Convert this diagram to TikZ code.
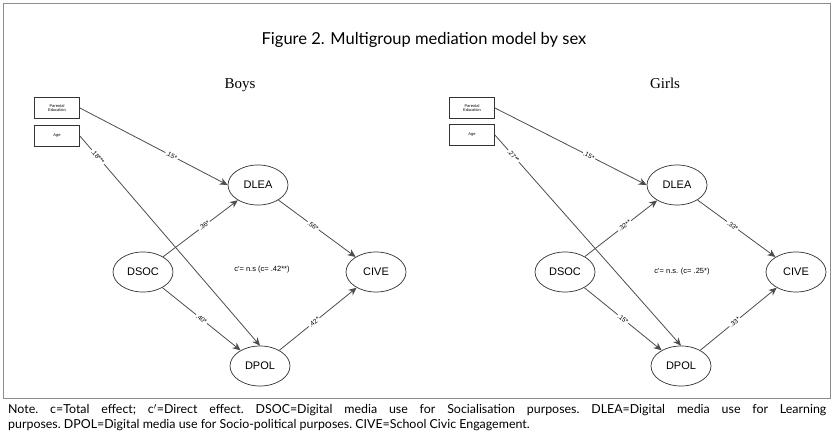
\documentclass[tikz,border=0pt]{standalone}
\usepackage{fontspec}
\setmainfont{Liberation Serif}
\newfontfamily\gillfont{Lato}
\newfontfamily\arialfont{Liberation Sans}
\usetikzlibrary{shapes.geometric,arrows.meta}
\tikzset{
  latent/.style={ellipse,draw=black!80,line width=0.7pt,minimum width=60pt,minimum height=40pt,inner sep=0pt,font=\arialfont\fontsize{11}{12}\selectfont},
  obsbox/.style={rectangle,draw=black!80,line width=0.8pt,minimum width=45pt,minimum height=21pt,inner sep=1pt,align=center,font=\arialfont\fontsize{4}{4.5}\selectfont},
  arr/.style={draw=black!70,line width=0.8pt,-{Stealth[length=8pt,width=7pt]}},
  lab/.style={fill=white,inner sep=1pt,font=\arialfont\fontsize{6.5}{7}\selectfont,sloped},
  grouptitle/.style={font=\fontsize{15}{17}\selectfont},
  ctext/.style={font=\arialfont\fontsize{7.5}{9}\selectfont}
}
\begin{document}
\begin{tikzpicture}[x=1pt,y=-1pt]
\useasboundingbox (0,0) rectangle (834,443);
\draw[black!45,line width=0.8pt] (3,3) rectangle (830,398);
\node[font=\gillfont\fontsize{16.5}{18}\selectfont] (title) at (424,40) {Figure 2. Multigroup mediation model by sex};
% Boys
\node[grouptitle] (boys) at (240,85) {Boys};
\node[obsbox] (pe1) at (57,108) {Parental\\Education};
\node[obsbox] (age1) at (57,136) {Age};
\node[latent] (dlea1) at (258,185) {DLEA};
\node[latent] (dsoc1) at (143,272) {DSOC};
\node[latent] (cive1) at (376,272) {CIVE};
\node[latent] (dpol1) at (260,366) {DPOL};
\draw[arr] (pe1.east) -- (dlea1.west) node[lab,pos=0.62] {.15*};
\draw[arr] (age1.east) -- (dpol1.north) node[lab,pos=0.1] {.18***};
\draw[arr] (dsoc1) -- (dlea1) node[lab,pos=0.55] {.36*};
\draw[arr] (dlea1) -- (cive1) node[lab,pos=0.45] {.56*};
\draw[arr] (dsoc1) -- (dpol1) node[lab,pos=0.5] {.40*};
\draw[arr] (dpol1) -- (cive1) node[lab,pos=0.45] {.42*};
\node[ctext] (c1) at (262,270) {c'= n.s (c= .42**)};
% Girls
\node[grouptitle] (girls) at (665,83) {Girls};
\node[obsbox] (pe2) at (472,108) {Parental\\Education};
\node[obsbox] (age2) at (472,135) {Age};
\node[latent] (dlea2) at (677,185) {DLEA};
\node[latent] (dsoc2) at (565,272) {DSOC};
\node[latent] (cive2) at (796,272) {CIVE};
\node[latent] (dpol2) at (681,366) {DPOL};
\draw[arr] (pe2.east) -- (dlea2.west) node[lab,pos=0.62] {.15*};
\draw[arr] (age2.east) -- (dpol2.north) node[lab,pos=0.1] {.27**};
\draw[arr] (dsoc2) -- (dlea2) node[lab,pos=0.55] {.32**};
\draw[arr] (dlea2) -- (cive2) node[lab,pos=0.45] {.33*};
\draw[arr] (dsoc2) -- (dpol2) node[lab,pos=0.5] {.15*};
\draw[arr] (dpol2) -- (cive2) node[lab,pos=0.45] {.33*};
\node[ctext] (c2) at (682,272) {c'= n.s. (c= .25*)};
% Note
\node[anchor=north west,inner sep=0pt,text width=818pt,align=justify,font=\gillfont\fontsize{12.4}{15}\selectfont] (note) at (8,404)
{\frenchspacing Note. c=Total effect; c$'$=Direct effect. DSOC=Digital media use for Socialisation purposes. DLEA=Digital media use for Learning\linebreak purposes. DPOL=Digital media use for Socio-political purposes. CIVE=School Civic Engagement.};
\end{tikzpicture}
\end{document}
